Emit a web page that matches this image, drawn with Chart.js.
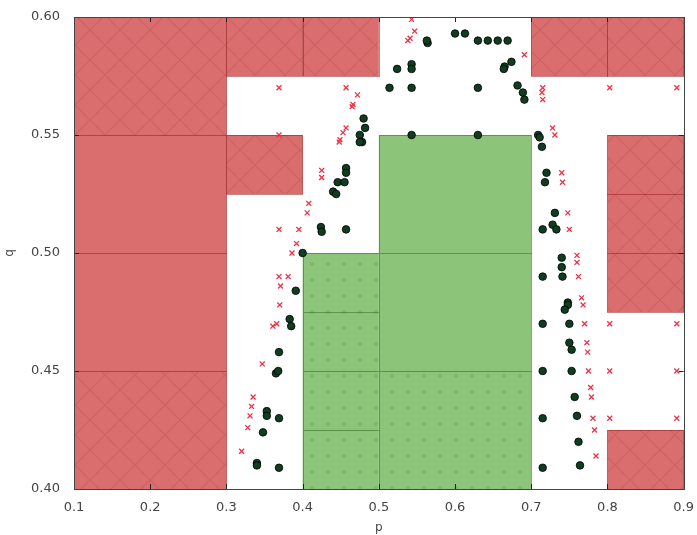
<!DOCTYPE html>
<html>
<head>
<meta charset="utf-8">
<script src="https://cdn.jsdelivr.net/npm/chart.js@4"></script>
<style>
  html, body { margin: 0; padding: 0; background: #fff; }
  #wrap { width: 697px; height: 535px; }
</style>
</head>
<body>
<div id="wrap"><canvas id="chart"></canvas></div>
<script>
// region cells in (p0, p1, q0, q1)
const redCells = [
  [0.1, 0.3, 0.55, 0.60], [0.1, 0.3, 0.50, 0.55], [0.1, 0.3, 0.45, 0.50], [0.1, 0.3, 0.40, 0.45],
  [0.3, 0.4, 0.575, 0.60], [0.4, 0.5, 0.575, 0.60], [0.3, 0.4, 0.525, 0.55],
  [0.7, 0.8, 0.575, 0.60], [0.8, 0.9, 0.575, 0.60],
  [0.8, 0.9, 0.525, 0.55], [0.8, 0.9, 0.50, 0.525], [0.8, 0.9, 0.475, 0.50],
  [0.8, 0.9, 0.40, 0.425]
];
const redHatched = [true, false, false, true, true, true, true, true, true, true, true, true, true];

const greenCells = [
  [0.4, 0.5, 0.475, 0.50], [0.4, 0.5, 0.45, 0.475], [0.4, 0.5, 0.425, 0.45], [0.4, 0.5, 0.40, 0.425],
  [0.5, 0.7, 0.50, 0.55], [0.5, 0.7, 0.45, 0.50], [0.5, 0.7, 0.40, 0.45]
];
const greenDotted = [true, true, true, true, false, false, true];

// red crosses
const crossP = [0.543, 0.538, 0.541, 0.547, 0.691, 0.715, 0.715, 0.714, 0.803, 0.891,
  0.369, 0.457, 0.472, 0.466, 0.465, 0.457, 0.453, 0.449, 0.448, 0.369, 0.425, 0.425, 0.408, 0.406,
  0.369, 0.395, 0.392, 0.386, 0.369, 0.381, 0.371, 0.370, 0.361, 0.366, 0.347, 0.335, 0.333, 0.331, 0.328, 0.320,
  0.728, 0.731, 0.740, 0.741, 0.748, 0.750, 0.760, 0.760, 0.762, 0.766, 0.768, 0.770, 0.803, 0.891,
  0.773, 0.774, 0.775, 0.803, 0.891, 0.778, 0.779, 0.781, 0.803, 0.891, 0.783, 0.785];
const crossQ = [0.599, 0.590, 0.591, 0.594, 0.584, 0.570, 0.565, 0.568, 0.570, 0.570,
  0.570, 0.570, 0.567, 0.563, 0.562, 0.553, 0.551, 0.548, 0.547, 0.550, 0.535, 0.532, 0.521, 0.517,
  0.510, 0.510, 0.504, 0.500, 0.490, 0.490, 0.486, 0.478, 0.469, 0.470, 0.453, 0.439, 0.435, 0.431, 0.426, 0.416,
  0.553, 0.550, 0.534, 0.530, 0.517, 0.510, 0.499, 0.496, 0.490, 0.481, 0.478, 0.470, 0.470, 0.470,
  0.462, 0.458, 0.450, 0.450, 0.450, 0.443, 0.439, 0.430, 0.430, 0.430, 0.425, 0.414];

// dark green dots
const dotP = [0.564, 0.563, 0.600, 0.613, 0.630, 0.643, 0.656, 0.669, 0.524, 0.543, 0.543, 0.665, 0.674, 0.664,
  0.514, 0.543, 0.630, 0.682, 0.689, 0.691,
  0.480, 0.482, 0.475, 0.478, 0.475, 0.457, 0.457, 0.446, 0.455, 0.440, 0.444, 0.424, 0.425, 0.457,
  0.400, 0.391, 0.383, 0.385, 0.369, 0.365, 0.368, 0.353, 0.353, 0.369, 0.348, 0.340, 0.340, 0.369,
  0.543, 0.630,
  0.709, 0.711, 0.714, 0.720, 0.718, 0.731, 0.728, 0.715, 0.733, 0.740, 0.740, 0.715, 0.741, 0.748,
  0.748, 0.744, 0.715, 0.750, 0.753, 0.750, 0.715, 0.753, 0.757, 0.715, 0.760, 0.762, 0.715, 0.764];
const dotQ = [0.589, 0.590, 0.593, 0.593, 0.590, 0.590, 0.590, 0.590, 0.578, 0.580, 0.578, 0.579, 0.581, 0.578,
  0.570, 0.570, 0.570, 0.571, 0.568, 0.565,
  0.557, 0.553, 0.550, 0.547, 0.547, 0.536, 0.534, 0.530, 0.530, 0.526, 0.525, 0.511, 0.509, 0.510,
  0.500, 0.484, 0.472, 0.469, 0.458, 0.449, 0.450, 0.433, 0.431, 0.430, 0.424, 0.411, 0.410, 0.409,
  0.550, 0.550,
  0.550, 0.549, 0.545, 0.534, 0.530, 0.517, 0.512, 0.510, 0.510, 0.498, 0.494, 0.490, 0.490, 0.479,
  0.478, 0.476, 0.470, 0.470, 0.459, 0.462, 0.450, 0.450, 0.439, 0.430, 0.431, 0.420, 0.409, 0.410];

const xTicks = [0.1, 0.2, 0.3, 0.4, 0.5, 0.6, 0.7, 0.8, 0.9];
const yTicks = [0.40, 0.45, 0.50, 0.55, 0.60];

function makePattern(kind) {
  const c = document.createElement('canvas');
  const g = c.getContext('2d');
  if (kind === 'cross') {
    const s = 30;
    c.width = s; c.height = s;
    g.strokeStyle = 'rgba(140,40,40,0.16)';
    g.lineWidth = 1.2;
    g.beginPath();
    g.moveTo(0, 0); g.lineTo(s, s);
    g.moveTo(s, 0); g.lineTo(0, s);
    g.stroke();
  } else {
    const s = 16;
    c.width = s; c.height = s;
    g.fillStyle = 'rgba(80,150,70,0.22)';
    g.fillRect(6, 6, 4, 4);
  }
  return g.createPattern(c, 'repeat');
}

const regionsPlugin = {
  id: 'regions',
  beforeDatasetsDraw(chart) {
    const { ctx, scales: { x, y } } = chart;
    const crossPat = makePattern('cross');
    const dotPat = makePattern('dot');
    const drawCell = (cell, fill, pattern, edge) => {
      const x0 = x.getPixelForValue(cell[0]), x1 = x.getPixelForValue(cell[1]);
      const y0 = y.getPixelForValue(cell[3]), y1 = y.getPixelForValue(cell[2]);
      ctx.fillStyle = fill;
      ctx.fillRect(x0, y0, x1 - x0, y1 - y0);
      if (pattern) {
        ctx.fillStyle = pattern;
        ctx.fillRect(x0, y0, x1 - x0, y1 - y0);
      }
      ctx.strokeStyle = edge;
      ctx.lineWidth = 1;
      ctx.strokeRect(Math.round(x0) + 0.5, Math.round(y0) + 0.5, Math.round(x1 - x0), Math.round(y1 - y0));
    };
    ctx.save();
    redCells.forEach((c, i) => drawCell(c, '#da6e6e', redHatched[i] ? crossPat : null, 'rgba(150,30,30,0.55)'));
    greenCells.forEach((c, i) => drawCell(c, '#8cc57a', greenDotted[i] ? dotPat : null, 'rgba(50,110,40,0.55)'));
    ctx.restore();
  },
  afterDraw(chart) {
    const { ctx, chartArea: a, scales: { x, y } } = chart;
    ctx.save();
    ctx.strokeStyle = '#222';
    ctx.lineWidth = 1;
    ctx.beginPath();
    // inward tick marks like matplotlib
    xTicks.forEach(v => {
      const px = Math.round(x.getPixelForValue(v)) + 0.5;
      ctx.moveTo(px, a.bottom); ctx.lineTo(px, a.bottom - 5);
      ctx.moveTo(px, a.top); ctx.lineTo(px, a.top + 5);
    });
    yTicks.forEach(v => {
      const py = Math.round(y.getPixelForValue(v)) + 0.5;
      ctx.moveTo(a.left, py); ctx.lineTo(a.left + 5, py);
      ctx.moveTo(a.right, py); ctx.lineTo(a.right - 5, py);
    });
    ctx.stroke();
    ctx.strokeStyle = '#444';
    ctx.strokeRect(Math.round(a.left) + 0.5, Math.round(a.top) + 0.5, Math.round(a.right - a.left), Math.round(a.bottom - a.top));
    ctx.restore();
  }
};

const crossPoints = crossP.map((p, i) => ({ x: p, y: crossQ[i] }));
const dotPoints = dotP.map((p, i) => ({ x: p, y: dotQ[i] }));

const ctx = document.getElementById('chart').getContext('2d');
new Chart(ctx, {
  type: 'scatter',
  data: {
    datasets: [{
      label: 'unstable',
      data: crossPoints,
      pointStyle: 'crossRot',
      pointRadius: 3.5,
      borderColor: '#ee3048',
      borderWidth: 1.3,
    }, {
      label: 'stable',
      data: dotPoints,
      pointStyle: 'circle',
      pointRadius: 3.8,
      backgroundColor: '#103d20',
      borderColor: '#000',
      borderWidth: 0.8,
    }],
  },
  options: {
    responsive: true,
    maintainAspectRatio: false,
    animation: false,
    layout: { padding: { top: 17, right: 13, left: 3, bottom: 0 } },
    plugins: { legend: { display: false }, tooltip: { enabled: false } },
    scales: {
      x: {
        type: 'linear',
        min: 0.1, max: 0.9,
        afterBuildTicks: s => { s.ticks = xTicks.map(v => ({ value: v })); },
        afterFit: s => { s.height = 46; },
        grid: { display: false },
        border: { display: false },
        ticks: { color: '#444', font: { family: 'DejaVu Sans', size: 13 }, padding: 3, callback: v => v.toFixed(1) },
        title: { display: true, text: 'p', color: '#444', font: { family: 'DejaVu Sans', size: 12 }, padding: 0 },
      },
      y: {
        type: 'linear',
        min: 0.40, max: 0.60,
        afterBuildTicks: s => { s.ticks = yTicks.map(v => ({ value: v })); },
        afterFit: s => { s.width = 71; },
        grid: { display: false },
        border: { display: false },
        ticks: { color: '#444', font: { family: 'DejaVu Sans', size: 13 }, padding: 6, callback: v => v.toFixed(2) },
        title: { display: true, text: 'q', color: '#444', font: { family: 'DejaVu Sans', size: 12 }, padding: 0 },
      },
    },
  },
  plugins: [regionsPlugin],
});
</script>
</body>
</html>
